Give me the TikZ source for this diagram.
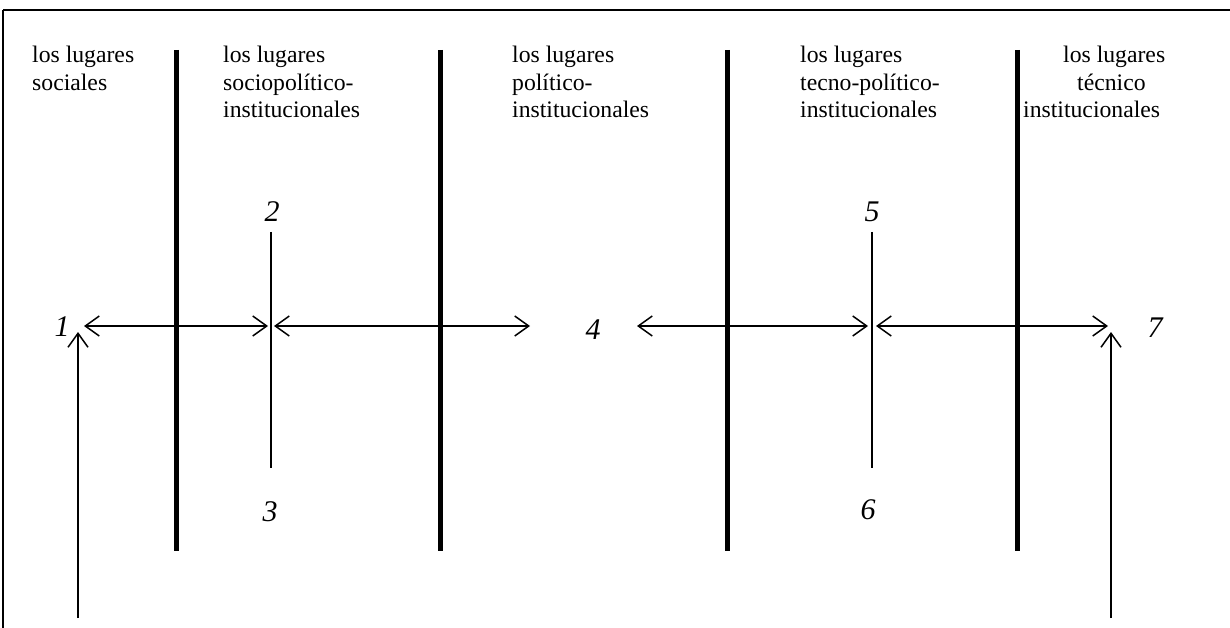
\documentclass[tikz,border=0pt]{standalone}
\usepackage{fontspec}
\setmainfont{Liberation Serif}
\usetikzlibrary{arrows.meta}
\begin{document}
\begin{tikzpicture}[x=1pt,y=-1pt,
  lbl/.style={anchor=north west,inner sep=0pt,align=left,font=\fontsize{23.7}{27.5}\selectfont},
  num/.style={inner sep=0pt,font=\fontsize{30}{30}\selectfont\itshape},
  bar/.style={line width=5pt},
  thinline/.style={line width=1.5pt},
  arr/.style={line width=1.5pt,{Straight Barb[length=14pt,width=20pt]}-{Straight Barb[length=14pt,width=20pt]}},
  uparr/.style={line width=1.5pt,-{Straight Barb[length=14pt,width=20pt]}}]
\useasboundingbox (0,0) rectangle (1230,628);
% frame
\draw[line width=2pt] (3,10) -- (1232,10);
\draw[line width=1.5pt] (3,10) -- (3,630);
% thick bars
\foreach \x in {176,440,727,1017} \draw[bar] (\x,50) -- (\x,551);
% labels
\node[lbl] (l1) at (32,46) {los lugares\\sociales};
\node[lbl] (l2) at (223,46) {los lugares\\sociopolítico-\\institucionales};
\node[lbl] (l3) at (512,46) {los lugares\\político-\\institucionales};
\node[lbl] (l4) at (800,46) {los lugares\\tecno-político-\\institucionales};
\node[lbl] (l5) at (1023,46) {\hspace*{40pt}los lugares\\\hspace*{54pt}técnico\\institucionales};
% numbers
\node[num] (n1) at (62,327) {1};
\node[num] (n2) at (272,212) {2};
\node[num] (n3) at (270,512) {3};
\node[num] (n4) at (593,330) {4};
\node[num] (n5) at (872,212) {5};
\node[num] (n6) at (868,510) {6};
\node[num] (n7) at (1155,328) {7};
% coordinates
\coordinate (a1) at (84,326);
\coordinate (c2l) at (268,326);
\coordinate (c2r) at (274,326);
\coordinate (a4l) at (530,326);
\coordinate (a4r) at (637,326);
\coordinate (c5l) at (868,326);
\coordinate (c5r) at (876,326);
\coordinate (a7) at (1108,326);
\coordinate (t2) at (271,232);
\coordinate (b3) at (271,468);
\coordinate (t5) at (872,232);
\coordinate (b6) at (872,468);
\coordinate (u1s) at (78,618);
\coordinate (u1e) at (78,332);
\coordinate (u7s) at (1111,618);
\coordinate (u7e) at (1111,332);
% connectors
\draw[thinline] (t2) -- (b3);
\draw[thinline] (t5) -- (b6);
\draw[arr] (a1) -- (c2l);
\draw[arr] (c2r) -- (a4l);
\draw[arr] (a4r) -- (c5l);
\draw[arr] (c5r) -- (a7);
\draw[uparr] (u1s) -- (u1e);
\draw[uparr] (u7s) -- (u7e);
\end{tikzpicture}
\end{document}
